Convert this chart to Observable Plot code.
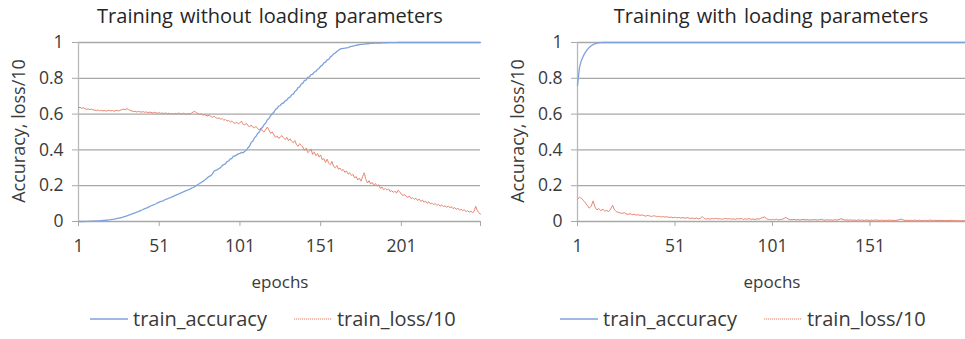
<!DOCTYPE html>
<html><head><meta charset="utf-8">
<script src="https://cdn.jsdelivr.net/npm/d3@7"></script>
<script src="https://cdn.jsdelivr.net/npm/@observablehq/plot@0.6"></script>
<style>
body{margin:0;background:#fff;width:965px;height:339px;overflow:hidden;position:relative;font-family:"Open Sans",sans-serif;color:#3a3a3a}
.abs{position:absolute;white-space:nowrap}
.title{font-size:20px;color:#262626;transform:translateX(-50%);top:2px;word-spacing:2px}
.xl{font-size:17px;transform:translateX(-50%);top:270px}
.yl{font-size:18px;transform:translate(-50%,-50%) rotate(-90deg);top:131px}
.leg{font-size:20px;top:305px;display:flex;align-items:center}
.leg svg{margin-right:5px}
</style></head><body>
<script>
// ---------- data ----------
const panelTitles = ["Training without loading parameters", "Training with loading parameters"];
const seriesNames = ["train_accuracy", "train_loss/10"];
const yTicks = [0, 0.2, 0.4, 0.6, 0.8, 1];
const xTicksLeft = [1, 51, 101, 151, 201];
const xTicksRight = [1, 51, 101, 151];

// Left panel: 250 epochs
const accNoLoad = [
0,0,0,0,0.001,0.001,0.001,0.002,0.002,0.002,
0.003,0.003,0.004,0.004,0.005,0.006,0.006,0.007,0.008,0.009,
0.010,0.012,0.013,0.015,0.017,0.019,0.021,0.023,0.026,0.029,
0.032,0.035,0.038,0.041,0.045,0.048,0.052,0.055,0.059,0.063,
0.067,0.072,0.075,0.079,0.083,0.088,0.091,0.095,0.099,0.104,
0.108,0.112,0.114,0.119,0.123,0.126,0.131,0.134,0.138,0.142,
0.146,0.150,0.153,0.158,0.161,0.166,0.170,0.174,0.177,0.181,
0.186,0.190,0.195,0.201,0.207,0.212,0.218,0.224,0.231,0.238,
0.246,0.252,0.256,0.266,0.282,0.286,0.290,0.296,0.301,0.312,
0.318,0.322,0.335,0.338,0.350,0.352,0.365,0.366,0.372,0.378,
0.380,0.386,0.384,0.392,0.398,0.412,0.422,0.442,0.450,0.468,
0.476,0.492,0.500,0.518,0.526,0.542,0.550,0.568,0.576,0.592,
0.602,0.610,0.626,0.632,0.645,0.648,0.660,0.662,0.674,0.678,
0.690,0.695,0.708,0.712,0.726,0.733,0.748,0.752,0.768,0.773,
0.788,0.790,0.805,0.808,0.820,0.822,0.835,0.838,0.850,0.855,
0.868,0.872,0.886,0.890,0.903,0.906,0.920,0.925,0.937,0.941,
0.950,0.957,0.963,0.966,0.967,0.968,0.970,0.972,0.975,0.978,
0.980,0.982,0.984,0.986,0.988,0.989,0.990,0.991,0.992,0.993,
0.994,0.995,0.995,0.996,0.996,0.997,0.997,0.997,0.998,0.998,
0.998,0.998,0.999,0.999,0.999,0.999,0.999,0.999,1,1,
1,1,1,1,1,1,1,1,1,1,
1,1,1,1,1,1,1,1,1,1,
1,1,1,1,1,1,1,1,1,1,
1,1,1,1,1,1,1,1,1,1,
1,1,1,1,1,1,1,1,1,1
];
const lossNoLoad = [
0.635,0.638,0.632,0.636,0.630,0.627,0.629,0.625,0.628,0.624,
0.622,0.620,0.623,0.619,0.621,0.618,0.620,0.617,0.619,0.621,
0.618,0.620,0.616,0.619,0.621,0.617,0.622,0.625,0.628,0.624,
0.630,0.626,0.620,0.618,0.614,0.616,0.612,0.615,0.613,0.611,
0.614,0.610,0.612,0.608,0.611,0.609,0.606,0.610,0.607,0.605,
0.608,0.604,0.606,0.603,0.607,0.602,0.605,0.601,0.603,0.600,
0.604,0.601,0.606,0.603,0.600,0.605,0.602,0.599,0.603,0.600,
0.606,0.612,0.615,0.608,0.603,0.598,0.601,0.595,0.597,0.593,
0.590,0.594,0.586,0.583,0.588,0.580,0.576,0.579,0.572,0.575,
0.566,0.570,0.561,0.565,0.555,0.562,0.552,0.548,0.556,0.545,
0.552,0.560,0.543,0.540,0.548,0.535,0.530,0.538,0.527,0.524,
0.531,0.518,0.512,0.522,0.505,0.500,0.515,0.528,0.510,0.492,
0.500,0.485,0.470,0.478,0.465,0.472,0.480,0.468,0.458,0.470,
0.452,0.462,0.448,0.440,0.452,0.430,0.420,0.435,0.425,0.415,
0.398,0.410,0.385,0.392,0.405,0.375,0.388,0.368,0.380,0.360,
0.372,0.345,0.352,0.330,0.348,0.325,0.318,0.335,0.308,0.300,
0.312,0.292,0.298,0.285,0.290,0.275,0.282,0.265,0.272,0.258,
0.262,0.245,0.250,0.232,0.242,0.225,0.252,0.272,0.235,0.215,
0.228,0.210,0.218,0.202,0.212,0.198,0.205,0.185,0.192,0.178,
0.185,0.176,0.182,0.168,0.172,0.163,0.170,0.158,0.175,0.165,
0.152,0.145,0.150,0.140,0.135,0.142,0.128,0.133,0.124,0.130,
0.118,0.125,0.112,0.120,0.108,0.114,0.102,0.110,0.098,0.104,
0.095,0.100,0.090,0.096,0.086,0.092,0.083,0.088,0.080,0.085,
0.078,0.082,0.072,0.078,0.068,0.074,0.063,0.069,0.060,0.066,
0.055,0.061,0.052,0.058,0.050,0.056,0.085,0.062,0.048,0.042
];

// Right panel: 200 epochs
const accLoad = [
0.760,0.860,0.900,0.925,0.945,0.960,0.972,0.982,0.988,0.993,
0.996,0.998,0.999,1,1,1,1,1,1,1,
1,1,1,1,1,1,1,1,1,1,
1,1,1,1,1,1,1,1,1,1,
1,1,1,1,1,1,1,1,1,1,
1,1,1,1,1,1,1,1,1,1,
1,1,1,1,1,1,1,1,1,1,
1,1,1,1,1,1,1,1,1,1,
1,1,1,1,1,1,1,1,1,1,
1,1,1,1,1,1,1,1,1,1,
1,1,1,1,1,1,1,1,1,1,
1,1,1,1,1,1,1,1,1,1,
1,1,1,1,1,1,1,1,1,1,
1,1,1,1,1,1,1,1,1,1,
1,1,1,1,1,1,1,1,1,1,
1,1,1,1,1,1,1,1,1,1,
1,1,1,1,1,1,1,1,1,1,
1,1,1,1,1,1,1,1,1,1,
1,1,1,1,1,1,1,1,1,1,
1,1,1,1,1,1,1,1,1,1
];
const lossLoad = [
0.125,0.135,0.130,0.118,0.105,0.090,0.075,0.085,0.115,0.080,
0.065,0.072,0.060,0.068,0.058,0.062,0.055,0.070,0.090,0.065,
0.055,0.050,0.048,0.045,0.050,0.042,0.040,0.044,0.038,0.040,
0.036,0.038,0.034,0.037,0.033,0.030,0.034,0.031,0.028,0.032,
0.030,0.027,0.029,0.025,0.028,0.024,0.027,0.022,0.025,0.021,
0.024,0.020,0.023,0.019,0.022,0.018,0.021,0.020,0.017,0.019,
0.016,0.019,0.015,0.018,0.028,0.017,0.014,0.016,0.013,0.017,
0.015,0.018,0.014,0.016,0.013,0.015,0.017,0.014,0.016,0.013,
0.015,0.012,0.016,0.014,0.017,0.012,0.015,0.013,0.016,0.012,
0.014,0.011,0.015,0.013,0.018,0.022,0.026,0.014,0.012,0.010,
0.012,0.010,0.013,0.009,0.011,0.012,0.018,0.022,0.014,0.011,
0.010,0.012,0.009,0.011,0.008,0.010,0.012,0.009,0.011,0.008,
0.010,0.009,0.011,0.008,0.010,0.012,0.009,0.007,0.010,0.008,
0.009,0.007,0.010,0.008,0.011,0.015,0.013,0.008,0.009,0.007,
0.009,0.007,0.008,0.006,0.009,0.007,0.008,0.006,0.008,0.007,
0.006,0.008,0.006,0.009,0.007,0.006,0.008,0.005,0.007,0.006,
0.008,0.006,0.007,0.005,0.008,0.010,0.014,0.009,0.006,0.007,
0.005,0.007,0.006,0.008,0.005,0.007,0.006,0.005,0.007,0.005,
0.006,0.008,0.005,0.007,0.006,0.005,0.007,0.005,0.006,0.004,
0.006,0.005,0.007,0.004,0.006,0.005,0.004,0.006,0.005,0.004
];

// ---------- styling ----------
const BLUE = "#7ea2dc";
const RED = "#e6806c";
const GRID = "#a8a8a8";
const FONT = '"Open Sans", sans-serif';

function add(cls, css, html) {
  const d = document.createElement("div");
  d.className = "abs " + cls;
  Object.assign(d.style, css);
  d.innerHTML = html;
  document.body.appendChild(d);
  return d;
}

function panel({left, width, marginLeft, marginRight, acc, loss, xTicks, endTick, title, titleX, epochsX, ylX, legX}) {
  const n = acc.length;
  const rows = acc.map((a, i) => ({epoch: i + 1, acc: a, loss: loss[i]}));
  const plot = Plot.plot({
    width, height: 339,
    marginLeft, marginRight, marginTop: 42, marginBottom: 118,
    style: {fontFamily: FONT, fontSize: "17px", color: "#3a3a3a", background: "transparent"},
    x: {domain: [1, n]},
    y: {domain: [0, 1]},
    marks: [
      Plot.gridY(yTicks, {stroke: GRID, strokeOpacity: 1, strokeWidth: 1.3}),
      Plot.axisY(yTicks, {tickSize: 6, tickPadding: 9, stroke: GRID, strokeOpacity: 1, fontSize: 17.5, label: null,
        tickFormat: d => String(+d.toFixed(1))}),
      Plot.ruleX([1], {stroke: "#b8b8b8", strokeWidth: 1.3}),
      Plot.axisX(endTick ? [...xTicks, n] : xTicks, {tickSize: 5, tickPadding: 13, stroke: GRID, strokeOpacity: 1, fontSize: 17.5, label: null,
        tickFormat: d => xTicks.includes(d) ? String(d) : ""}),
      Plot.line(rows, {x: "epoch", y: "loss", stroke: RED, strokeWidth: 1, strokeDasharray: "1.2,0.8"}),
      Plot.line(rows, {x: "epoch", y: "acc", stroke: BLUE, strokeWidth: 1.3})
    ]
  });
  plot.style.position = "absolute";
  plot.style.left = left + "px";
  plot.style.top = "0px";
  document.body.appendChild(plot);

  add("title", {left: titleX + "px"}, title);
  add("xl", {left: epochsX + "px"}, "epochs");
  add("yl", {left: ylX + "px"}, "Accuracy, loss/10");
  add("leg", {left: legX + "px"},
    `<svg width="38" height="4"><line x1="0" x2="38" y1="2" y2="2" stroke="${BLUE}" stroke-width="1.5"/></svg>${seriesNames[0]}` +
    `<span style="display:inline-block;width:27px"></span>` +
    `<svg width="38" height="4"><line x1="0" x2="38" y1="2" y2="2" stroke="${RED}" stroke-width="1.2" stroke-dasharray="1.2,0.8"/></svg>${seriesNames[1]}`);
}

panel({left: 0, width: 485, marginLeft: 78, marginRight: 5, acc: accNoLoad, loss: lossNoLoad,
  xTicks: xTicksLeft, endTick: true, title: panelTitles[0], titleX: 270, epochsX: 280, ylX: 18, legX: 90});
panel({left: 490, width: 475, marginLeft: 87, marginRight: 0, acc: accLoad, loss: lossLoad,
  xTicks: xTicksRight, endTick: false, title: panelTitles[1], titleX: 771, epochsX: 772, ylX: 517, legX: 560});
</script>
</body></html>
